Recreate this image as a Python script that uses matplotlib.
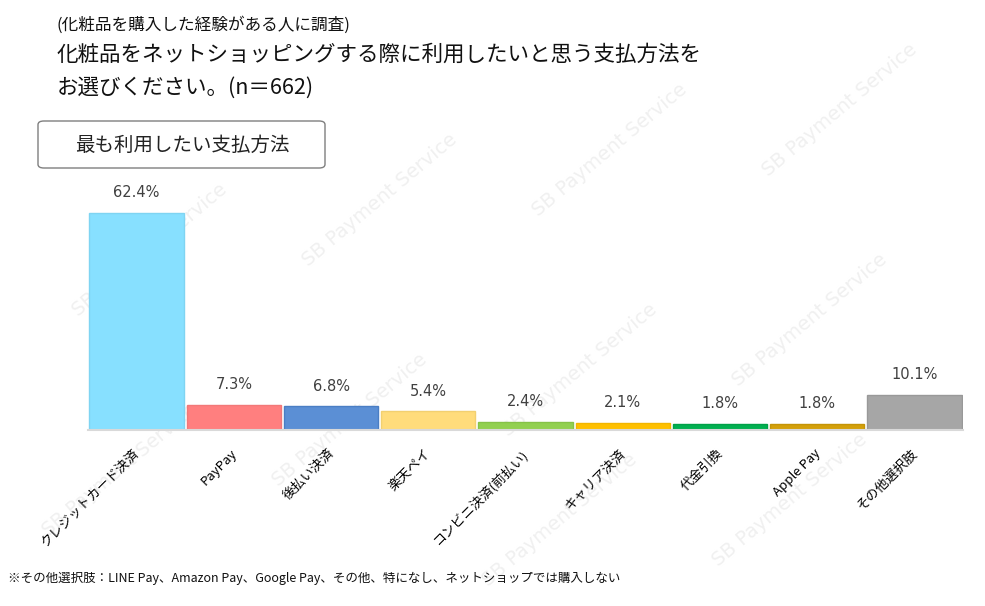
import matplotlib
matplotlib.use("Agg")
import matplotlib.pyplot as plt
from matplotlib.patches import FancyBboxPatch

plt.rcParams['font.family'] = ['Noto Sans CJK JP', 'DejaVu Sans']

categories = ["クレジットカード決済", "PayPay", "後払い決済", "楽天ペイ", "コンビニ決済(前払い)",
              "キャリア決済", "代金引換", "Apple Pay", "その他選択肢"]
values = [62.4, 7.3, 6.8, 5.4, 2.4, 2.1, 1.8, 1.8, 10.1]
colors = ["#87E0FF", "#FF7F7F", "#5B8FD5", "#FFDC7B", "#92D050", "#FFC000", "#00B050", "#D4A00A", "#A6A6A6"]
edges = ["#7FD4F2", "#F27878", "#4A7EC4", "#F2D070", "#86C248", "#F2B600", "#00A048", "#C49408", "#999999"]

W, H = 985, 606
fig = plt.figure(figsize=(W / 100, H / 100), dpi=100)

# faint watermark (background)
wm_pos = [(150, 250), (380, 200), (610, 150), (840, 110),
          (120, 470), (350, 420), (580, 370), (810, 320),
          (560, 520), (790, 500)]
for (px, py) in wm_pos:
    fig.text(px / W, 1 - py / H, "SB Payment Service", rotation=40, fontsize=14, color="#F0F0F0",
             ha="center", va="center", family="DejaVu Sans", zorder=-5)

left, right, bottom, top = 88, 963, 430, 180
ax = fig.add_axes([left / W, 1 - bottom / H, (right - left) / W, (bottom - top) / H])
ax.set_zorder(1)
ax.patch.set_alpha(0)
x = range(len(values))
ax.bar(x, values, width=0.97, color=colors, edgecolor=edges, linewidth=1, zorder=2)
ax.set_xlim(-0.5, len(values) - 0.5)
ax.set_ylim(0, 250 / 3.48)
for s in ["top", "right", "left"]:
    ax.spines[s].set_visible(False)
ax.spines["bottom"].set_color("#D9D9D9")
ax.spines["bottom"].set_linewidth(1.5)
ax.set_yticks([])
ax.set_xticks([])

for i, v in enumerate(values):
    ax.annotate(f"{v}%", (i, v), xytext=(0, 9), textcoords="offset points",
                ha="center", va="bottom", fontsize=10.5, color="#404040", family="DejaVu Sans")
    ax.annotate(categories[i], (i, 0), xytext=(4, -12), textcoords="offset points",
                ha="right", va="top", rotation=45, fontsize=9.5, color="#000000")

fig.text(57 / W, 1 - 25 / H, "(化粧品を購入した経験がある人に調査)", fontsize=12, va="center", color="#111111")
fig.text(57 / W, 1 - 55 / H, "化粧品をネットショッピングする際に利用したいと思う支払方法を", fontsize=15.5,
         va="center", color="#111111")
fig.text(57 / W, 1 - 88 / H, "お選びください。(n＝662)", fontsize=15.5, va="center", color="#111111")

box = FancyBboxPatch((38 / W, 1 - 168 / H), (325 - 38) / W, (168 - 121) / H,
                     boxstyle="round,pad=0,rounding_size=0.006", transform=fig.transFigure,
                     facecolor="white", edgecolor="#7F7F7F", linewidth=1)
fig.patches.append(box)
fig.text(182 / W, 1 - 145 / H, "最も利用したい支払方法", fontsize=14, ha="center", va="center", color="#222222")

fig.text(8 / W, 1 - 578 / H, "※その他選択肢：LINE Pay、Amazon Pay、Google Pay、その他、特になし、ネットショップでは購入しない",
         fontsize=9, va="center", color="#111111")

fig.savefig("out.png", dpi=100)
